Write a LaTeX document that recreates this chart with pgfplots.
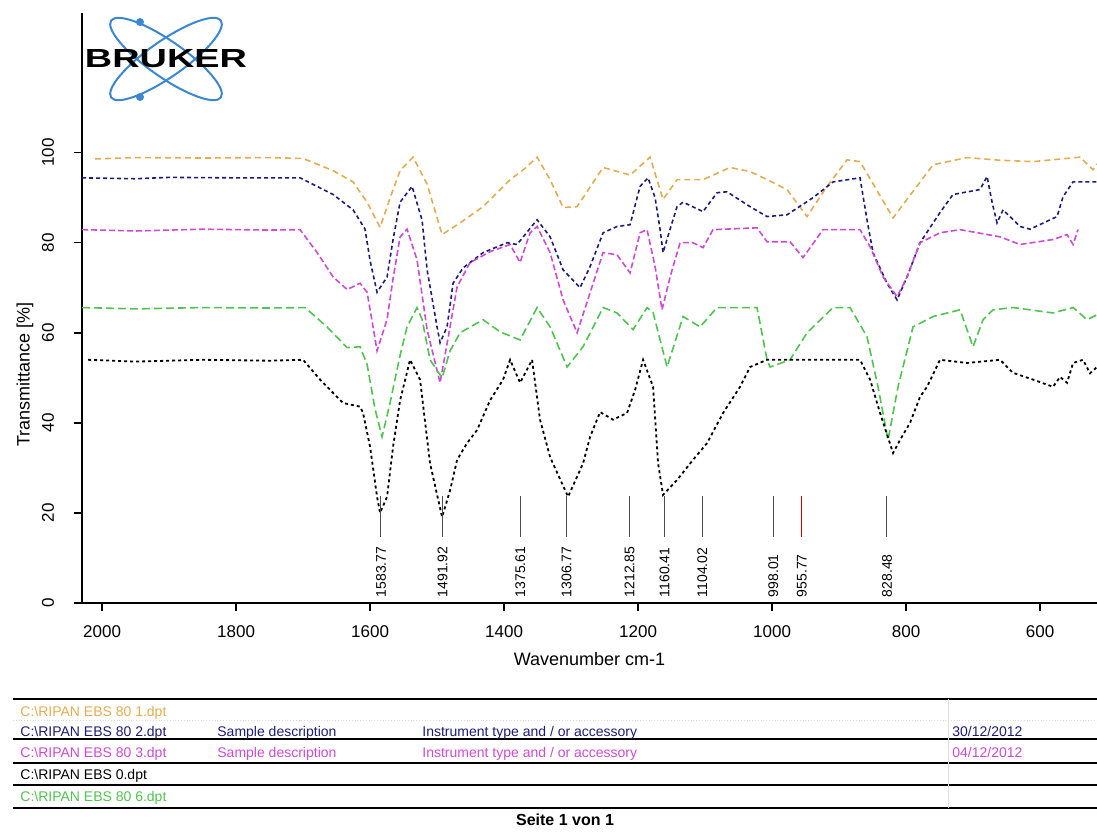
\documentclass[border=0pt]{standalone}
\usepackage{fontspec}
\setmainfont{Liberation Sans}
\usepackage{pgfplots}
\pgfplotsset{compat=1.18}
\usepackage{pgfplotstable}

\definecolor{specorange}{RGB}{228,172,82}
\definecolor{specblue}{RGB}{28,28,120}
\definecolor{specmag}{RGB}{205,75,210}
\definecolor{specgreen}{RGB}{80,195,80}
\definecolor{logoblue}{RGB}{60,135,210}

% EBS 80 1.dpt
\pgfplotstableread{
w v
2010.4 98.6
1950 98.9
1850 98.8
1750 98.9
1700 98.7
1655.2 96.0
1625.4 93.5
1604.5 89.0
1585.1 83.4
1570.0 90.0
1555.2 96.0
1535.8 99.0
1514.9 93.0
1492.5 81.8
1465.7 84.4
1431.3 88.0
1391.0 94.0
1368.7 96.5
1350.7 99.0
1331.3 94.0
1311.9 87.8
1291.0 88.0
1252.2 96.7
1211.9 95.0
1182.1 99.0
1162.7 89.6
1141.8 94.0
1103.0 94.0
1062.7 96.7
1032.8 95.8
1007.5 94.0
977.6 91.8
947.8 85.8
917.9 92.5
888.1 98.4
868.7 98.0
819.4 85.5
759.7 97.3
709.0 98.9
659.7 98.3
610.4 98.0
540.3 99.0
520.9 96.2
515.0 97.5
}\orangetab

% EBS 80 2.dpt
\pgfplotstableread{
w v
2029.9 94.4
1950 94.2
1900 94.5
1800 94.4
1704.5 94.4
1655.2 90.7
1625.4 87.3
1607.5 83.0
1600.0 76.0
1589.6 69.0
1574.6 72.4
1565.7 80.7
1555.2 89.0
1537.3 92.5
1522.4 85.0
1514.9 74.0
1500.0 61.3
1495.5 57.8
1485.1 61.3
1476.1 71.0
1461.2 74.4
1431.3 77.8
1395.5 80.0
1380.6 79.6
1350.7 85.1
1331.3 81.3
1311.9 74.0
1286.6 70.0
1271.6 74.7
1252.2 82.2
1231.3 83.6
1211.9 84.0
1197.0 92.5
1185.1 94.4
1174.6 90.0
1167.2 83.0
1162.7 77.8
1152.2 83.0
1141.8 88.0
1132.8 89.0
1103.0 86.9
1082.1 91.1
1067.2 91.3
1032.8 88.0
1007.5 85.8
977.6 86.2
938.8 90.0
908.9 93.5
868.7 94.4
858.2 85.0
849.3 77.8
828.4 71.0
813.4 67.3
798.5 72.4
779.1 80.0
749.3 86.7
729.9 90.7
689.6 91.8
679.1 94.7
671.6 89.0
664.2 84.4
655.2 87.3
629.9 83.6
614.9 83.0
574.6 85.8
565.7 90.2
550.7 93.5
515.0 93.5
}\bluetab

% EBS 80 3.dpt
\pgfplotstableread{
w v
2029.9 82.9
1950 82.6
1850 83.0
1750 82.8
1704.5 82.9
1679.0 77.8
1655.2 72.4
1634.3 69.6
1614.9 71.0
1604.5 69.0
1595.5 61.3
1589.6 56.0
1574.6 63.0
1565.7 72.0
1555.2 81.3
1544.8 83.0
1529.9 76.2
1514.9 60.7
1495.5 48.9
1480.6 61.3
1470.1 70.2
1450.7 75.6
1420.9 78.0
1391.0 79.6
1376.1 75.6
1361.2 82.2
1350.7 83.6
1331.3 77.8
1311.9 67.3
1291.0 60.0
1271.6 68.9
1252.2 77.8
1231.3 77.3
1211.9 73.3
1197.0 82.2
1186.6 82.9
1174.6 74.7
1164.2 65.1
1152.2 72.4
1137.3 80.0
1117.9 80.0
1103.0 78.9
1088.1 82.9
1022.4 83.3
1007.5 80.2
973.1 80.2
953.7 76.7
923.9 82.9
868.7 82.9
853.7 79.1
834.3 72.4
813.4 68.0
798.5 72.4
779.1 80.0
749.3 82.2
719.4 82.9
659.7 81.3
629.9 79.6
580.6 80.7
559.7 81.8
550.7 79.6
543.3 82.9
}\magtab

% EBS 80 6.dpt
\pgfplotstableread{
w v
2029.9 65.6
1950 65.3
1850 65.6
1750 65.5
1697.0 65.6
1664.2 61.3
1634.3 56.7
1614.9 56.9
1604.5 53.0
1592.5 43.0
1582.1 36.9
1570.2 44.4
1555.2 55.0
1544.8 61.3
1529.9 65.6
1522.4 63.0
1510.5 54.0
1492.5 50.0
1480.6 56.0
1465.7 60.0
1431.3 62.9
1405.9 60.2
1376.1 58.4
1350.7 65.6
1331.3 61.3
1305.9 52.4
1282.1 56.9
1252.2 65.6
1231.3 64.4
1207.5 60.7
1186.6 65.6
1177.6 64.5
1156.7 52.4
1132.8 63.6
1107.5 61.3
1082.1 65.6
1022.4 65.6
1007.5 54.0
1003.0 52.4
973.1 54.0
947.8 60.0
908.9 65.6
883.6 65.6
858.2 59.1
841.8 48.0
826.9 36.2
812.0 48.0
789.6 61.3
759.7 63.6
719.4 65.1
700.0 56.9
685.1 62.9
670.1 65.1
640.3 65.6
580.6 64.4
550.7 65.6
529.9 62.9
515.0 64.0
}\greentab

% EBS 0.dpt
\pgfplotstableread{
w v
2020.9 54.0
1950 53.6
1850 54.0
1750 53.8
1700 54.0
1674.6 49.6
1640.3 44.4
1614.9 43.6
1610.5 42.2
1600.0 34.7
1589.6 23.6
1585.1 20.0
1574.6 23.6
1565.7 34.7
1555.2 45.0
1540.3 54.0
1525.4 49.6
1510.5 31.0
1492.5 19.1
1480.6 25.0
1470.1 31.8
1455.2 35.5
1440.3 38.4
1420.9 45.0
1401.5 49.6
1391.0 54.0
1376.1 48.9
1358.2 54.0
1346.3 40.7
1331.3 32.4
1304.5 23.6
1282.1 31.0
1271.6 36.9
1256.7 42.4
1237.3 40.7
1216.4 42.2
1204.5 47.3
1192.5 54.0
1177.6 48.0
1170.1 31.0
1162.7 24.0
1141.8 27.3
1117.9 31.8
1097.0 35.5
1073.1 42.2
1047.8 48.0
1032.8 52.4
1007.5 54.0
868.7 54.0
853.7 49.6
838.8 42.2
819.4 33.3
809.0 36.2
794.0 40.0
779.1 45.8
768.7 48.0
749.3 54.0
709.0 53.3
659.7 54.0
640.3 51.1
610.4 49.6
580.6 48.0
570.1 50.2
559.7 48.9
550.7 53.3
535.8 54.0
525.4 51.0
515.0 52.4
}\blacktab

\begin{document}
\begin{tikzpicture}
\path[use as bounding box] (0,0) rectangle (548.5pt,-417pt);

% logo
\begin{scope}[x=0.5pt,y=-0.5pt]
  \draw[logoblue, line width=1pt, rotate around={35:(166,59)}] (166,59) ellipse (67 and 18);
  \draw[logoblue, line width=1pt, rotate around={-35:(166,59)}] (166,59) ellipse (67 and 18);
  \fill[logoblue] (140,22) circle (4);
  \fill[logoblue] (140,97) circle (4);
  \node[inner sep=0pt] at (166,59) {\resizebox{81pt}{9pt}{\bfseries BRUKER}};
\end{scope}

\begin{axis}[
    at={(41pt,-301.5pt)}, anchor=south west,
    width=507.5pt, height=295pt, scale only axis,
    xmin=515, xmax=2030, x dir=reverse,
    ymin=0, ymax=131,
    axis x line=bottom, axis y line=left,
    axis line style={-, line width=0.8pt},
    xtick={600,800,...,2000}, ytick={0,20,...,100},
    tick align=outside, major tick length=4pt,
    tick style={line width=0.8pt, black},
    /pgf/number format/assume math mode=true,
    /pgf/number format/set thousands separator={},
    xticklabel style={font=\fontsize{8.5}{10}\selectfont, yshift=-4pt},
    yticklabel style={font=\fontsize{8.5}{10}\selectfont, rotate=90, anchor=south, yshift=6.5pt},
    xlabel={Wavenumber cm-1},
    xlabel style={font=\fontsize{9}{10}\selectfont, at={(rel axis cs:0.5,0)}, anchor=center, yshift=-28pt},
    ylabel={Transmittance [\%]},
    ylabel style={font=\fontsize{9}{10}\selectfont, at={(rel axis cs:0,0.387)}, anchor=center, yshift=28.5pt},
    clip=false,
]
\addplot[specorange, line width=0.8pt, dash pattern=on 3pt off 2pt] table[x=w,y=v] {\orangetab};
\addplot[specblue, line width=0.8pt, dash pattern=on 2pt off 1.5pt] table[x=w,y=v] {\bluetab};
\addplot[specmag, line width=0.8pt, dash pattern=on 3pt off 1.5pt] table[x=w,y=v] {\magtab};
\addplot[specgreen, line width=0.8pt, dash pattern=on 4pt off 2pt] table[x=w,y=v] {\greentab};
\addplot[black, line width=0.9pt, dash pattern=on 1.5pt off 1.5pt] table[x=w,y=v] {\blacktab};

\pgfplotsinvokeforeach{1583.77,1491.92,1375.61,1306.77,1212.85,1160.41,1104.02,998.01,828.48}{
  \draw[black!70, line width=0.5pt] (axis cs:#1,14.7) -- (axis cs:#1,23.8);
  \node[rotate=90, anchor=west, inner sep=0pt, font=\fontsize{7}{8}\selectfont] at (axis cs:#1,1.2) {#1};
}
\draw[red!80!black, line width=0.6pt] (axis cs:955.77,14.7) -- (axis cs:955.77,23.8);
\node[rotate=90, anchor=west, inner sep=0pt, font=\fontsize{7}{8}\selectfont] at (axis cs:955.77,1.2) {955.77};
\end{axis}

% file table
\begin{scope}[x=0.5pt,y=-0.5pt, every node/.style={inner sep=0pt, anchor=base west, font=\fontsize{7}{8}\selectfont}]
  \draw[line width=1pt] (13,699) -- (1100,699);
  \draw[black!15, line width=0.4pt, densely dotted] (13,720) -- (1100,720);
  \draw[line width=1pt] (13,739) -- (1100,739);
  \draw[line width=1pt] (13,763) -- (1100,763);
  \draw[line width=1pt] (13,785) -- (1100,785);
  \draw[line width=1pt] (13,808) -- (1100,808);
  \draw[black!12, line width=0.4pt] (948,699) -- (948,808);
  \node[text=specorange] at (20,716.5) {C:\textbackslash RIPAN EBS 80 1.dpt};
  \node[text=specblue] at (20,736) {C:\textbackslash RIPAN EBS 80 2.dpt};
  \node[text=specblue] at (217,736) {Sample description};
  \node[text=specblue] at (422,736) {Instrument type and / or accessory};
  \node[text=specblue] at (952,736) {30/12/2012};
  \node[text=specmag] at (20,757.5) {C:\textbackslash RIPAN EBS 80 3.dpt};
  \node[text=specmag] at (217,757.5) {Sample description};
  \node[text=specmag] at (422,757.5) {Instrument type and / or accessory};
  \node[text=specmag] at (952,757.5) {04/12/2012};
  \node[text=black] at (20,779.5) {C:\textbackslash RIPAN EBS 0.dpt};
  \node[text=specgreen] at (20,801.5) {C:\textbackslash RIPAN EBS 80 6.dpt};
  \node[anchor=base, font=\fontsize{8}{9}\selectfont\bfseries] at (565,825) {Seite 1 von 1};
\end{scope}
\end{tikzpicture}
\end{document}
